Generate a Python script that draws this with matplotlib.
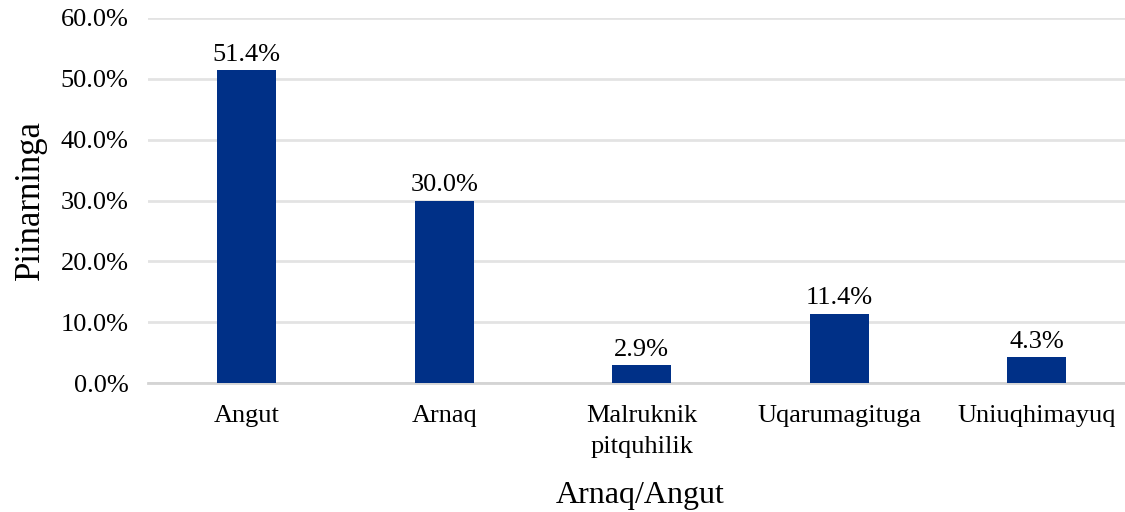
import matplotlib.pyplot as plt
from matplotlib.ticker import FuncFormatter

categories = ['Angut', 'Arnaq', 'Malruknik\npitquhilik', 'Uqarumagituga', 'Uniuqhimayuq']
values = [51.4, 30.0, 2.9, 11.4, 4.3]

plt.rcParams['font.family'] = ['Liberation Serif', 'DejaVu Serif']

fig = plt.figure(figsize=(11.25, 5.12), dpi=100)
ax = fig.add_axes([148 / 1125, 1 - 383 / 512, 987.5 / 1125, 365 / 512])

x = range(len(categories))
bars = ax.bar(x, values, width=0.3, color='#003087', zorder=3)
for b, v in zip(bars, values):
    ax.text(b.get_x() + b.get_width() / 2, v + 0.7, f'{v:.1f}%',
            ha='center', va='bottom', fontsize=19)

ax.set_xlim(-0.5, len(categories) - 0.5)
ax.set_ylim(0, 60)
ax.set_yticks(range(0, 61, 10))
ax.yaxis.set_major_formatter(FuncFormatter(lambda v, p: f'{v:.1f}%'))
ax.set_xticks(list(x))
ax.set_xticklabels(categories, fontsize=19, linespacing=1.5)
ax.tick_params(axis='y', labelsize=19, length=0, pad=14)
ax.tick_params(axis='x', length=0, pad=16)

ax.grid(axis='y', color='#e3e3e3', linewidth=2, zorder=0)
for s in ['top', 'right', 'left']:
    ax.spines[s].set_visible(False)
ax.spines['bottom'].set_color('#d4d4d4')
ax.spines['bottom'].set_linewidth(2)

ax.set_ylabel('Piinarninga', fontsize=25, labelpad=10)
fig.text(640 / 1125, 1 - 496 / 512, 'Arnaq/Angut', ha='center', va='center', fontsize=23)

fig.savefig('out.png', dpi=100)
